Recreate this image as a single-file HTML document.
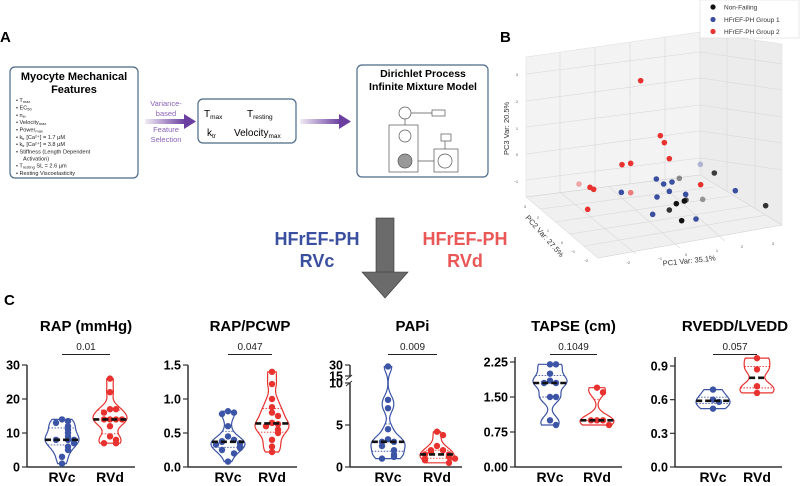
<!DOCTYPE html>
<html><head><meta charset="utf-8"><style>
html,body{margin:0;padding:0;background:#fff;}
svg{display:block;font-family:"Liberation Sans",sans-serif;}
</style></head><body>
<svg id="fig" width="800" height="486" viewBox="0 0 800 486" xmlns="http://www.w3.org/2000/svg">
<defs>
<linearGradient id="ag" x1="0" x2="1"><stop offset="0" stop-color="#6b3fa0" stop-opacity="0.1"/><stop offset="1" stop-color="#6b3fa0"/></linearGradient>
</defs>
<text x="0" y="42" font-size="15" font-weight="bold">A</text>
<g>
<rect x="10" y="67" width="128" height="111" rx="5" fill="#fff" stroke="#4b6a88" stroke-width="1.2"/>
<text x="74" y="80" font-size="11" font-weight="bold" text-anchor="middle">Myocyte Mechanical</text>
<text x="74" y="93" font-size="11" font-weight="bold" text-anchor="middle">Features</text>
<g font-size="5.6" fill="#222">
<text x="16" y="102">•  T<tspan font-size="4" dy="1">max</tspan></text>
<text x="16" y="109.5">•  EC<tspan font-size="4" dy="1">50</tspan></text>
<text x="16" y="117">•  n<tspan font-size="4" dy="1">H</tspan></text>
<text x="16" y="124">•  Velocity<tspan font-size="4" dy="1">max</tspan></text>
<text x="16" y="131.5">•  Power<tspan font-size="4" dy="1">max</tspan></text>
<text x="16" y="139">•  k<tspan font-size="4" dy="1">tr</tspan><tspan dy="-1"> [Ca²⁺] = 1.7 µM</tspan></text>
<text x="16" y="146">•  k<tspan font-size="4" dy="1">tr</tspan><tspan dy="-1"> [Ca²⁺] = 3.8 µM</tspan></text>
<text x="16" y="153.5">•  Stiffness (Length Dependent</text>
<text x="23" y="160.5">Activation)</text>
<text x="16" y="167.5">•  T<tspan font-size="4" dy="1">resting</tspan><tspan dy="-1"> SL = 2.6 µm</tspan></text>
<text x="16" y="175">•  Resting Viscoelasticity</text>
</g></g>
<g>
<rect x="145" y="119" width="40" height="5" fill="url(#ag)"/><polygon points="184,114 196,121.5 184,129" fill="#6b3fa0"/>
<g font-size="7.5" fill="#8a63b8" text-anchor="middle"><text x="166" y="106">Variance-</text><text x="166" y="116">based</text><text x="166" y="132">Feature</text><text x="166" y="142">Selection</text></g>
</g>
<g>
<rect x="198" y="99" width="98" height="44" rx="5" fill="#fff" stroke="#4b6a88" stroke-width="1.2"/>
<g font-size="10"><text x="204" y="117">T<tspan font-size="6.5" dy="2">max</tspan></text><text x="247" y="117">T<tspan font-size="6.5" dy="2">resting</tspan></text>
<text x="207" y="136">k<tspan font-size="6.5" dy="2">tr</tspan></text><text x="234" y="136">Velocity<tspan font-size="6.5" dy="2">max</tspan></text></g>
</g>
<g>
<rect x="300" y="119" width="40" height="5" fill="url(#ag)"/><polygon points="339,114 351,121.5 339,129" fill="#6b3fa0"/>
</g>
<g>
<rect x="357" y="65" width="131" height="112" rx="5" fill="#fff" stroke="#4b6a88" stroke-width="1.2"/>
<text x="423" y="77" font-size="10.5" font-weight="bold" text-anchor="middle">Dirichlet Process</text>
<text x="423" y="90" font-size="10.5" font-weight="bold" text-anchor="middle">Infinite Mixture Model</text>
<g stroke="#555" stroke-width="0.7" fill="#fff">
<line x1="405" y1="113" x2="440" y2="113"/><line x1="405" y1="113" x2="405" y2="161"/><line x1="405" y1="161" x2="444" y2="161"/><line x1="445" y1="138" x2="445" y2="161"/>
<rect x="389" y="125" width="29" height="47"/><rect x="434" y="149" width="24" height="23"/>
<circle cx="405" cy="113" r="6"/><rect x="432" y="110" width="13" height="6"/>
<circle cx="405" cy="136" r="6"/><circle cx="405" cy="161" r="7" fill="#999"/>
<rect x="441" y="134" width="10" height="7"/><circle cx="445" cy="161" r="7"/>
</g>
</g>
<g>
<rect x="376" y="218" width="18" height="55" fill="#6b6b6b" stroke="#333" stroke-width="0.6"/>
<polygon points="362,272 408,272 385,298" fill="#6b6b6b" stroke="#333" stroke-width="0.6"/>
</g>
<g font-size="18" font-weight="bold" text-anchor="middle">
<text x="317" y="245" fill="#3b4fa0">HFrEF-PH</text>
<text x="317" y="267" fill="#3b4fa0">RVc</text>
<text x="465" y="245" fill="#e95757">HFrEF-PH</text>
<text x="465" y="267" fill="#e95757">RVd</text>
</g>
<text x="500" y="42" font-size="15" font-weight="bold">B</text>
<g id="pca">
<polygon points="526,57 700,32 700,175 526,197" fill="#f3f3f3" stroke="#ddd" stroke-width="0.5"/>
<polygon points="700,32 782,44 782,225 700,175" fill="#ececec" stroke="#ddd" stroke-width="0.5"/>
<polygon points="526,197 700,175 782,225 598,258" fill="#f0f0f0" stroke="#ccc" stroke-width="0.5"/>
<g stroke="#d8d8d8" stroke-width="0.6" fill="none">
<line x1="526" y1="74" x2="700" y2="52"/><line x1="526" y1="101" x2="700" y2="78"/><line x1="526" y1="127" x2="700" y2="105"/><line x1="526" y1="154" x2="700" y2="131"/><line x1="526" y1="180" x2="700" y2="158"/>
<line x1="560" y1="52" x2="560" y2="193"/><line x1="595" y1="47" x2="595" y2="189"/><line x1="630" y1="42" x2="630" y2="184"/><line x1="665" y1="37" x2="665" y2="180"/>
<line x1="700" y1="52" x2="782" y2="64"/><line x1="700" y1="78" x2="782" y2="90"/><line x1="700" y1="105" x2="782" y2="117"/><line x1="700" y1="131" x2="782" y2="143"/><line x1="700" y1="158" x2="782" y2="170"/>
<line x1="727" y1="36" x2="727" y2="191"/><line x1="755" y1="40" x2="755" y2="208"/>
<line x1="540" y1="209" x2="714" y2="187"/><line x1="555" y1="222" x2="730" y2="196"/><line x1="570" y1="234" x2="750" y2="206"/><line x1="584" y1="246" x2="766" y2="215"/>
<line x1="561" y1="193" x2="636" y2="254"/><line x1="609" y1="187" x2="680" y2="248"/><line x1="657" y1="181" x2="725" y2="241"/>
</g>
<g font-size="3.5" fill="#444">
<text x="516" y="76">3</text><text x="516" y="103">2</text><text x="516" y="130">1</text><text x="516" y="156">0</text><text x="514" y="183">−1</text>
<text x="524" y="208">3</text><text x="537" y="219">2</text><text x="547" y="232">1</text><text x="561" y="244">0</text><text x="571" y="253">−1</text><text x="584" y="262">−2</text>
<text x="626" y="264">−2</text><text x="658" y="260">−1</text><text x="685" y="256">0</text><text x="716" y="252">1</text><text x="741" y="248">2</text><text x="772" y="245">3</text>
</g>
<text x="0" y="0" font-size="7.5" fill="#333" transform="translate(509,155) rotate(-90)">PC3 Var: 20.5%</text>
<text x="0" y="0" font-size="7.5" fill="#333" transform="translate(525,218) rotate(48)">PC2 Var: 27.5%</text>
<text x="0" y="0" font-size="7.5" fill="#333" transform="translate(663,266) rotate(-6)">PC1 Var: 35.1%</text>
</g>
<g>
<rect x="700" y="0" width="99" height="38" fill="#fff" stroke="#ddd" stroke-width="0.6"/>
<circle cx="713" cy="7" r="2.6" fill="#111"/><text x="724" y="9.5" font-size="6.5" fill="#333">Non-Failing</text>
<circle cx="713" cy="19.5" r="2.6" fill="#3b4fa0"/><text x="724" y="22" font-size="6.5" fill="#333">HFrEF-PH Group 1</text>
<circle cx="713" cy="31.5" r="2.6" fill="#e8322f"/><text x="724" y="34" font-size="6.5" fill="#333">HFrEF-PH Group 2</text>
</g>
<text x="4" y="305" font-size="15" font-weight="bold">C</text>
<g id="violins"></g>
</svg>
<script>
// ---- PCA projected coordinates (projected view units) ----
const redU=[482,541,553,568,426,452,297,330,341,452,323,662];
const redV=[242,407,428,476,494,490,552,562,568,578,628,554];
const redA=[1,1,1,1,1,1,0.4,1,1,0.6,1,1];
const blueU=[529,551,576,568,424,531,617,518,648,766,661];
const blueV=[537,552,546,574,577,591,583,643,657,572,493];
const blueA=[1,1,1,1,1,1,1,1,1,1,0.35];
const blackU=[703,598,589,613,618,668,568,605,857];
const blackV=[519,535,611,603,600,598,630,662,617];
const blackA=[0.8,0.45,1,1,0.7,0.4,0.85,1,0.85];

// ---- Violin data ----
const rapRVc=[14,13.5,13,12,11,10,9,8,8,8,7,6,5,3,1];
const rapRVd=[26,22,17,17,16,14,14,14,14,12,9,8,7,7];
const pcwpRVc=[0.82,0.8,0.78,0.6,0.45,0.4,0.38,0.37,0.35,0.33,0.3,0.28,0.25,0.2,0.08];
const pcwpRVd=[1.4,1.22,1.0,0.88,0.8,0.75,0.65,0.63,0.6,0.55,0.5,0.4,0.3,0.22];
const papiRVc=[28,8,7,4.5,3.3,3,3,2.5,2,1.5,1.2,1.0];
const papiRVd=[4.2,3.8,2.5,2,2,1.8,1.5,1.5,1.3,1.2,1,1,0.8,0.5];
const tapseRVc=[2.2,2.2,2.0,1.85,1.8,1.8,1.5,1.5,1.0,0.9];
const tapseRVd=[1.7,1.6,1.0,1.0,1.0,0.9];
const rvRVc=[0.69,0.6,0.58,0.52];
const rvRVd=[0.97,0.87,0.72,0.66];
const rapTicks=[0,10,20,30], rapTickLabels=['0','10','20','30'];
const pcwpTicks=[0,0.5,1.0,1.5], pcwpTickLabels=['0.0','0.5','1.0','1.5'];
const papiTicks=[0,5,10,15,30], papiTickLabels=['0','5','10','15','30'];
const tapseTicks=[0,0.75,1.5,2.25], tapseTickLabels=['0.00','0.75','1.50','2.25'];
const rvTicks=[0,0.3,0.6,0.9], rvTickLabels=['0.0','0.3','0.6','0.9'];
const titles=['RAP (mmHg)','RAP/PCWP','PAPi','TAPSE (cm)','RVEDD/LVEDD'];
const pvalues=['0.01','0.047','0.009','0.1049','0.057'];
const groupNames=['RVc','RVd'];

const NS='http://www.w3.org/2000/svg';
function mk(tag,attrs,parent){const e=document.createElementNS(NS,tag);for(const k in attrs)e.setAttribute(k,attrs[k]);parent.appendChild(e);return e;}

const pca=document.getElementById('pca');
function pu(u){return 480+u/3;} function pv(v){return v/3;}
function drawPca(U,V,A,col,name){
  for(let i=0;i<U.length;i++){
    const c=mk('circle',{cx:pu(U[i]),cy:pv(V[i]),r:2.8,fill:col,'fill-opacity':A[i]},pca);
    
    
  }
}
drawPca(blackU,blackV,blackA,'#111','pca-point-non-failing');
drawPca(blueU,blueV,blueA,'#3b4fa0','pca-point-group-1');
drawPca(redU,redV,redA,'#e8322f','pca-point-group-2');

const BLUE='#3c54a5', RED='#e8322f';
const Y0=467;
function linScale(max,top){return v=>Y0-v*(Y0-top)/max;}
function papiScale(v){return v<=10?Y0-v*8.4:376-(v-15)*(11/15);}
const charts=[
 {ax:27,cx:[62,110],sc:linScale(30,365),ticks:rapTicks,tl:rapTickLabels,d:[rapRVc,rapRVd],top:365},
 {ax:188,cx:[228,272],sc:linScale(1.5,365),ticks:pcwpTicks,tl:pcwpTickLabels,d:[pcwpRVc,pcwpRVd],top:365},
 {ax:350,cx:[388,437],sc:papiScale,ticks:papiTicks,tl:papiTickLabels,d:[papiRVc,papiRVd],top:365,broken:true},
 {ax:515,cx:[550,597],sc:linScale(2.25,362),ticks:tapseTicks,tl:tapseTickLabels,d:[tapseRVc,tapseRVd],top:357},
 {ax:675,cx:[713,757],sc:linScale(0.9,366),ticks:rvTicks,tl:rvTickLabels,d:[rvRVc,rvRVd],top:357}
];
function quant(a,q){const s=[...a].sort((x,y)=>x-y);const p=(s.length-1)*q;const l=Math.floor(p),h=Math.ceil(p);return s[l]+(s[h]-s[l])*(p-l);}
const vg=document.getElementById('violins');
charts.forEach((c,ci)=>{
  const g=mk('g',{},vg);
  
  
  const t=mk('text',{x:(c.cx[0]+c.cx[1])/2,y:331,'font-size':15,'font-weight':'bold','text-anchor':'middle'},g);t.textContent=titles[ci];
  
  
  const p=mk('text',{x:(c.cx[0]+c.cx[1])/2,y:350,'font-size':10,fill:'#222','text-anchor':'middle'},g);p.textContent=pvalues[ci];
  
  
  mk('line',{x1:c.cx[0],x2:c.cx[1],y1:354.5,y2:354.5,stroke:'#222','stroke-width':1},g);
  if(c.broken){
    mk('line',{x1:c.ax,x2:c.ax,y1:Y0,y2:383,stroke:'#333','stroke-width':1.5},g);
    mk('line',{x1:c.ax,x2:c.ax,y1:377,y2:365,stroke:'#333','stroke-width':1.5},g);
    mk('line',{x1:c.ax-4,x2:c.ax+2,y1:386,y2:381,stroke:'#333','stroke-width':1},g);
    mk('line',{x1:c.ax-4,x2:c.ax+2,y1:380,y2:375,stroke:'#333','stroke-width':1},g);
  } else mk('line',{x1:c.ax,x2:c.ax,y1:Y0,y2:c.top,stroke:'#333','stroke-width':1.5},g);
  mk('line',{x1:c.ax,x2:c.cx[1]+25,y1:Y0,y2:Y0,stroke:'#333','stroke-width':1.5},g);
  c.ticks.forEach((tv,ti)=>{
    const y=c.sc(tv);
    mk('line',{x1:c.ax-5,x2:c.ax,y1:y,y2:y,stroke:'#333','stroke-width':1.2},g);
    const tt=mk('text',{x:c.ax-7,y:y+4.5,'font-size':12.5,'font-weight':'bold','text-anchor':'end'},g);tt.textContent=c.tl[ti];
    
    
  });
  c.d.forEach((vals,gi)=>{
    const col=gi?RED:BLUE, x0=c.cx[gi];
    const gl=mk('text',{x:x0,y:482,'font-size':14,'font-weight':'bold','text-anchor':'middle'},g);gl.textContent=groupNames[gi];
    
    
    const py=vals.map(c.sc);
    const ymin=Math.min(...py), ymax=Math.max(...py);
    const bw=6, N=60, dens=[];
    for(let k=0;k<=N;k++){const y=ymin+(ymax-ymin)*k/N;let s=0;py.forEach(v=>{s+=Math.exp(-0.5*((y-v)/bw)**2);});dens.push([y,s]);}
    const mx=Math.max(...dens.map(d=>d[1]));
    const W=17;
    let path='M'+x0+','+ymin;
    dens.forEach(d=>{path+=' L'+(x0+W*d[1]/mx).toFixed(1)+','+d[0].toFixed(1);});
    for(let k=dens.length-1;k>=0;k--){const d=dens[k];path+=' L'+(x0-W*d[1]/mx).toFixed(1)+','+d[0].toFixed(1);}
    path+='Z';
    const v=mk('path',{d:path,fill:'#fff',stroke:col,'stroke-width':1.2},g);
    
    
    function halfAt(y){let best=dens[0];dens.forEach(d=>{if(Math.abs(d[0]-y)<Math.abs(best[0]-y))best=d;});return W*best[1]/mx;}
    [0.25,0.75].forEach(q=>{const y=c.sc(quant(vals,q));const h=halfAt(y);mk('line',{x1:x0-h,x2:x0+h,y1:y,y2:y,stroke:col,'stroke-width':0.9,'stroke-dasharray':'1.5,1.5'},g);});
    const placed=[];
    vals.forEach(val=>{
      const y=c.sc(val);const near=placed.filter(p=>Math.abs(p-y)<5).length;placed.push(y);
      const off=near===0?0:(near%2?1:-1)*Math.ceil(near/2)*6;
      const pt=mk('circle',{cx:x0+off,cy:y,r:3.2,fill:col},g);
      
      
    });
    const my=c.sc(quant(vals,0.5));const mh=halfAt(my);
    const m=mk('line',{x1:x0-mh,x2:x0+mh,y1:my,y2:my,stroke:'#111','stroke-width':2.6,'stroke-dasharray':'6,3'},g);
    
    
  });
});
</script>
</body></html>
